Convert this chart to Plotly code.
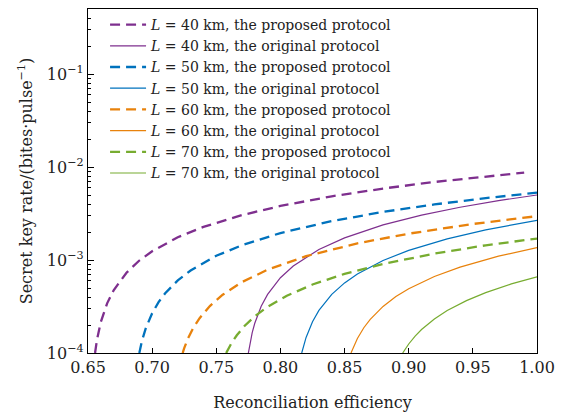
import plotly.graph_objects as go

# ---- data ----
x_p40 = [0.6555, 0.657, 0.66, 0.665, 0.67, 0.68, 0.69, 0.70, 0.72, 0.74, 0.77, 0.80, 0.84, 0.88, 0.92, 0.96, 0.99]
y_p40 = [1.00e-4, 1.39e-4, 2.16e-4, 3.44e-4, 4.73e-4, 7.30e-4, 9.87e-4, 1.24e-3, 1.76e-3, 2.27e-3, 3.04e-3, 3.81e-3, 4.84e-3, 5.87e-3, 6.90e-3, 7.93e-3, 8.70e-3]

x_o40 = [0.775, 0.776, 0.778, 0.78, 0.785, 0.79, 0.80, 0.81, 0.83, 0.85, 0.88, 0.91, 0.94, 0.97, 1.00]
y_o40 = [1.00e-4, 1.22e-4, 1.66e-4, 2.09e-4, 3.18e-4, 4.27e-4, 6.45e-4, 8.62e-4, 1.30e-3, 1.73e-3, 2.39e-3, 3.04e-3, 3.69e-3, 4.35e-3, 5.00e-3]

x_p50 = [0.690, 0.692, 0.695, 0.70, 0.705, 0.71, 0.72, 0.73, 0.75, 0.77, 0.80, 0.84, 0.88, 0.92, 0.96, 1.00]
y_p50 = [1.00e-4, 1.34e-4, 1.84e-4, 2.68e-4, 3.52e-4, 4.36e-4, 6.04e-4, 7.71e-4, 1.11e-3, 1.44e-3, 1.95e-3, 2.62e-3, 3.29e-3, 3.96e-3, 4.63e-3, 5.30e-3]

x_o50 = [0.8166, 0.818, 0.82, 0.825, 0.83, 0.84, 0.85, 0.86, 0.88, 0.90, 0.93, 0.96, 1.00]
y_o50 = [1.00e-4, 1.19e-4, 1.47e-4, 2.17e-4, 2.87e-4, 4.27e-4, 5.67e-4, 7.08e-4, 9.88e-4, 1.27e-3, 1.69e-3, 2.11e-3, 2.67e-3]

x_p60 = [0.7238, 0.725, 0.728, 0.732, 0.737, 0.745, 0.755, 0.77, 0.79, 0.82, 0.86, 0.90, 0.95, 1.00]
y_p60 = [1.00e-4, 1.13e-4, 1.44e-4, 1.85e-4, 2.37e-4, 3.20e-4, 4.23e-4, 5.79e-4, 7.86e-4, 1.10e-3, 1.51e-3, 1.92e-3, 2.44e-3, 2.96e-3]

x_o60 = [0.855, 0.857, 0.86, 0.865, 0.87, 0.88, 0.89, 0.90, 0.92, 0.94, 0.97, 1.00]
y_o60 = [1.00e-4, 1.17e-4, 1.43e-4, 1.87e-4, 2.30e-4, 3.17e-4, 4.04e-4, 4.91e-4, 6.65e-4, 8.39e-4, 1.10e-3, 1.36e-3]

x_p70 = [0.7577, 0.759, 0.762, 0.766, 0.772, 0.78, 0.79, 0.805, 0.825, 0.85, 0.88, 0.92, 0.96, 1.00]
y_p70 = [1.00e-4, 1.09e-4, 1.29e-4, 1.55e-4, 1.95e-4, 2.48e-4, 3.14e-4, 4.13e-4, 5.45e-4, 7.10e-4, 9.08e-4, 1.17e-3, 1.44e-3, 1.70e-3]

x_o70 = [0.8953, 0.897, 0.90, 0.905, 0.91, 0.92, 0.93, 0.945, 0.96, 0.98, 1.00]
y_o70 = [1.00e-4, 1.09e-4, 1.25e-4, 1.52e-4, 1.79e-4, 2.32e-4, 2.86e-4, 3.66e-4, 4.46e-4, 5.53e-4, 6.60e-4]

x_ticks = [0.65, 0.70, 0.75, 0.80, 0.85, 0.90, 0.95, 1.00]
x_ticktext = ["0.65", "0.70", "0.75", "0.80", "0.85", "0.90", "0.95", "1.00"]
y_ticks = [1e-4, 1e-3, 1e-2, 1e-1]
y_ticktext = ["10<sup>−4</sup>", "10<sup>−3</sup>", "10<sup>−2</sup>", "10<sup>−1</sup>"]

C_PURPLE = "#7E2F8E"
C_BLUE = "#0072BD"
C_ORANGE = "#E8820C"
C_GREEN = "#77AC30"

series = [
    (x_p40, y_p40, C_PURPLE, True, "40", "proposed"),
    (x_o40, y_o40, C_PURPLE, False, "40", "original"),
    (x_p50, y_p50, C_BLUE, True, "50", "proposed"),
    (x_o50, y_o50, C_BLUE, False, "50", "original"),
    (x_p60, y_p60, C_ORANGE, True, "60", "proposed"),
    (x_o60, y_o60, C_ORANGE, False, "60", "original"),
    (x_p70, y_p70, C_GREEN, True, "70", "proposed"),
    (x_o70, y_o70, C_GREEN, False, "70", "original"),
]

FONT = "DejaVu Serif"

fig = go.Figure()
for xs, ys, col, dashed, L, kind in series:
    fig.add_trace(go.Scatter(
        x=xs, y=ys, mode="lines",
        line=dict(color=col, width=2.3 if dashed else 1.2,
                  dash="10px,6px" if dashed else "solid"),
        name=f"<i>L</i> = {L} km, the {kind} protocol",
    ))

fig.update_layout(
    width=563, height=416,
    margin=dict(l=88, r=20, t=8, b=61),
    paper_bgcolor="white", plot_bgcolor="white",
    font=dict(family=FONT, size=16, color="#222222"),
    showlegend=True,
    legend=dict(
        x=0.038, y=1.0, xanchor="left", yanchor="top",
        bgcolor="rgba(0,0,0,0)", borderwidth=0,
        font=dict(family=FONT, size=14, color="#222222"),
        tracegroupgap=0, itemwidth=36,
    ),
)

fig.update_xaxes(
    range=[0.65, 1.00],
    tickvals=x_ticks, ticktext=x_ticktext,
    ticks="inside", ticklen=5, tickcolor="black", tickwidth=1,
    showline=True, linecolor="black", linewidth=1.2, mirror=True,
    showgrid=False, zeroline=False,
    tickfont=dict(family=FONT, size=16, color="#222222"),
    title=dict(text="Reconciliation efficiency", font=dict(family=FONT, size=16, color="#222222"), standoff=20),
)
fig.update_yaxes(
    type="log", range=[-4, -0.301],
    tickvals=y_ticks, ticktext=y_ticktext,
    ticks="inside", ticklen=6, tickcolor="black", tickwidth=1,
    minor=dict(ticks="inside", ticklen=3, tickcolor="black", dtick="D1", showgrid=False),
    showline=True, linecolor="black", linewidth=1.2, mirror=True,
    showgrid=False, zeroline=False,
    tickfont=dict(family=FONT, size=16, color="#222222"),
    title=dict(text="Secret key rate/(bites·pulse<sup>−1</sup>)", font=dict(family=FONT, size=16, color="#222222"), standoff=10),
)

fig.write_html("out.html")
